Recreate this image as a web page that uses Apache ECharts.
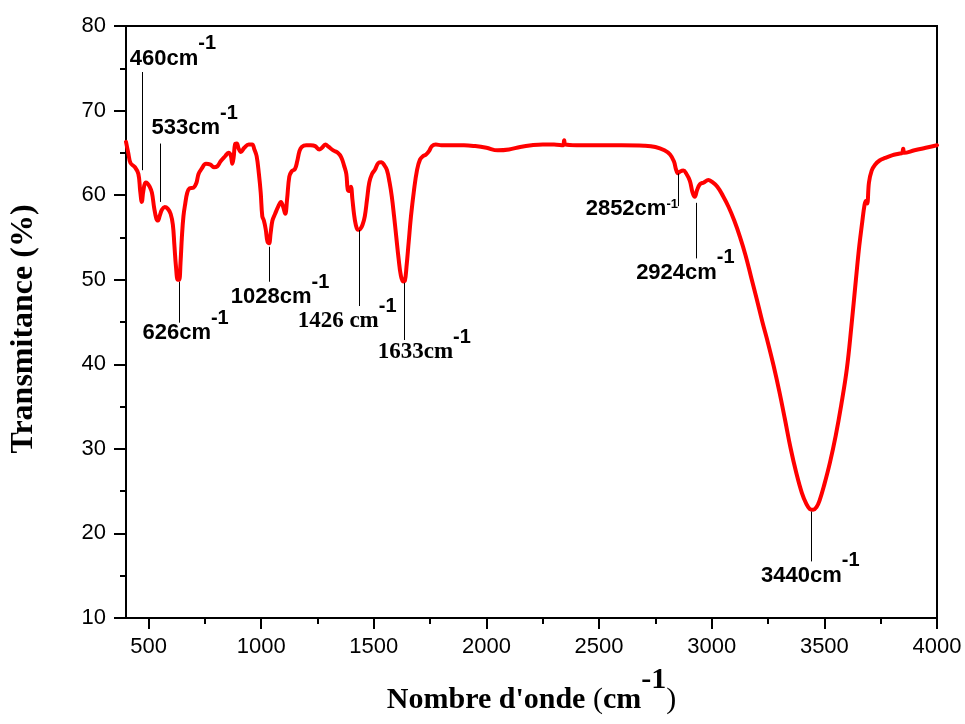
<!DOCTYPE html>
<html>
<head>
<meta charset="utf-8">
<script src="https://cdn.jsdelivr.net/npm/echarts@6/dist/echarts.min.js"></script>
<style>
  html, body { margin: 0; padding: 0; background: #fff; }
  #chart { width: 965px; height: 724px; }
</style>
</head>
<body>
<div id="chart"></div>
<script>
// --- spectre IR ---
const wavenumbers = [
    400, 410, 420, 440, 455, 463, 470, 477, 487, 495, 505, 515, 525, 535, 542, 550, 560, 572, 585, 598,
    608, 615, 622, 630, 636, 642, 648, 655, 663, 672, 682, 700, 712, 722, 735, 755, 775, 790, 805, 820,
    840, 855, 865, 872, 878, 884, 892, 900, 910, 925, 945, 960, 970, 980, 990, 998, 1005, 1012, 1020, 1028,
    1035, 1042, 1050, 1062, 1075, 1088, 1098, 1107, 1115, 1125, 1135, 1150, 1160, 1170, 1180, 1200, 1220, 1240, 1258, 1270,
    1285, 1300, 1320, 1340, 1355, 1368, 1378, 1384, 1390, 1398, 1405, 1412, 1420, 1430, 1440, 1450, 1460, 1470, 1480, 1492,
    1505, 1520, 1534, 1545, 1558, 1570, 1580, 1590, 1600, 1610, 1620, 1630, 1638, 1645, 1655, 1665, 1678, 1692, 1705, 1718,
    1732, 1745, 1758, 1775, 1800, 1850, 1900, 1950, 2000, 2050, 2100, 2150, 2200, 2250, 2300, 2340, 2345, 2350, 2400, 2500,
    2600, 2700, 2750, 2790, 2815, 2832, 2842, 2850, 2860, 2874, 2888, 2903, 2915, 2925, 2935, 2948, 2965, 2985, 3000, 3025,
    3050, 3075, 3100, 3125, 3150, 3175, 3200, 3225, 3250, 3275, 3300, 3325, 3350, 3375, 3400, 3420, 3435, 3450, 3465,
    3480, 3500, 3525, 3550, 3575, 3600, 3620, 3640, 3655, 3668, 3678, 3684, 3690, 3698, 3710, 3725, 3745, 3770, 3800, 3830,
    3845, 3850, 3855, 3900, 3950, 4000
];
const transmittance = [
    66.3, 65.0, 63.8, 63.3, 62.5, 60.5, 59.2, 60.5, 61.5, 61.4, 61.0, 60.3, 58.5, 57.2, 57.0, 57.6, 58.3, 58.6, 58.4, 57.8,
    56.5, 54.0, 51.5, 50.0, 50.0, 52.0, 55.0, 57.5, 59.0, 60.3, 60.8, 60.9, 61.4, 62.5, 63.1, 63.7, 63.6, 63.3, 63.4, 64.0,
    64.6, 65.0, 64.7, 63.7, 64.5, 66.0, 66.1, 65.5, 65.1, 65.6, 66.0, 66.0, 65.4, 64.6, 62.5, 60.3, 57.5, 57.0, 56.0, 54.5,
    54.3, 55.5, 57.0, 57.8, 58.6, 59.2, 58.6, 57.8, 59.5, 62.2, 62.8, 63.1, 64.0, 65.2, 65.7, 65.9, 65.9, 65.8, 65.4, 65.6,
    66.0, 65.7, 65.3, 65.0, 64.5, 63.5, 62.5, 60.7, 60.5, 61.0, 59.5, 57.8, 56.5, 55.9, 56.0, 56.5, 57.5, 59.5, 61.5, 62.5,
    63.0, 63.8, 63.9, 63.6, 63.0, 61.5, 59.8, 57.5, 55.0, 52.5, 50.5, 49.8, 49.9, 51.5, 54.5, 57.5, 60.5, 63.0, 64.2, 64.6,
    64.8, 65.2, 65.8, 66.0, 65.9, 65.9, 65.9, 65.8, 65.6, 65.3, 65.4, 65.7, 65.9, 66.0, 66.0, 65.9, 66.5, 66.0, 65.9, 65.9,
    65.9, 65.85, 65.7, 65.3, 64.8, 64.0, 63.0, 62.6, 62.8, 62.9, 62.5, 61.7, 60.3, 59.8, 60.6, 61.3, 61.5, 61.8, 61.6, 61.0,
    59.9, 58.6, 57.0, 55.1, 52.9, 50.3, 47.7, 45.0, 42.5, 39.8, 36.8, 33.5, 30.1, 27.2, 24.8, 23.5, 22.9, 22.8, 23.1,
    24.0, 25.8, 28.4, 31.5, 35.2, 39.5, 44.5, 50.0, 54.0, 56.8, 58.8, 59.3, 59.0, 61.5, 62.9, 63.6, 64.1, 64.4, 64.7, 64.9,
    65.0, 65.5, 65.0, 65.3, 65.6, 65.9
];

// graduations
const xTickLabels = [500, 1000, 1500, 2000, 2500, 3000, 3500, 4000];
const xMinorTicks = [750, 1250, 1750, 2250, 2750, 3250, 3750];

// annotations des bandes
const peakNames = ['460', '533', '626', '1028', '1426 ', '1633', '2852', '2924', '3440'];
const peakX = [472, 551, 635, 1036, 1435, 1635, 2851, 2933, 3443];
const peakLineFrom = [62.95, 59.2, 49.76, 53.9, 55.87, 49.64, 62.56, 59.09, 22.59];
const peakLineTo = [74.56, 66.1, 44.92, 49.76, 46.89, 42.87, 58.7, 52.52, 16.69];

// mise en page des étiquettes (px par rapport au bout du trait) + police
const peakLabelLayout = [
    { dx: -12, dy: -13, font: 'sans', sup: 20, raise: 16 },
    { dx: -8, dy: -15, font: 'sans', sup: 20, raise: 16 },
    { dx: -36, dy: 11, font: 'sans', sup: 20, raise: 16 },
    { dx: -38, dy: 16, font: 'sans', sup: 20, raise: 16 },
    { dx: -61, dy: 16, font: 'serif', sup: 20, raise: 16 },
    { dx: -26, dy: 13, font: 'serif', sup: 20, raise: 16 },
    { dx: -92, dy: 3, font: 'sans', sup: 13, raise: 9 },
    { dx: -60, dy: 15, font: 'sans', sup: 20, raise: 16 },
    { dx: -50, dy: 15, font: 'sans', sup: 20, raise: 16 }
];

const SANS = "'Liberation Sans', Arial, sans-serif";
const SERIF = "'Liberation Serif', 'Times New Roman', serif";

function buildPeakMarks() {
    const lines = [];
    const labels = [];
    peakNames.forEach((name, i) => {
        const lay = peakLabelLayout[i];
        lines.push([
            { coord: [peakX[i], peakLineFrom[i]] },
            { coord: [peakX[i], peakLineTo[i]] }
        ]);
        const isSerif = lay.font === 'serif';
        labels.push({
            coord: [peakX[i], peakLineTo[i]],
            label: {
                show: true,
                position: [lay.dx, lay.dy + 11],
                align: 'left',
                verticalAlign: 'bottom',
                formatter: '{b|' + name + 'cm}{s|-1}',
                rich: {
                    b: {
                        fontFamily: isSerif ? SERIF : SANS,
                        fontWeight: 'bold',
                        fontSize: isSerif ? 23 : 22,
                        lineHeight: 22,
                        color: '#000',
                        verticalAlign: 'bottom'
                    },
                    s: {
                        fontFamily: SANS,
                        fontWeight: 'bold',
                        fontSize: lay.sup,
                        lineHeight: lay.sup,
                        color: '#000',
                        verticalAlign: 'bottom',
                        padding: [0, 0, lay.raise, 0]
                    }
                }
            }
        });
    });
    return { lines, labels };
}

const chart = echarts.init(document.getElementById('chart'));
const marks = buildPeakMarks();
const seriesData = wavenumbers.map((w, i) => [w, transmittance[i]]);

const option = {
    backgroundColor: '#fff',
    animation: false,
    grid: {
        left: 126,
        right: 28,
        top: 26,
        bottom: 106,
        show: true,
        borderColor: '#000',
        borderWidth: 2
    },
    xAxis: [
        {
            type: 'value',
            min: 400,
            max: 4000,
            position: 'bottom',
            name: "{t|Nombre d'onde }{p|(}{t|cm}{s|-1}{p|)}",
            nameLocation: 'middle',
            nameGap: 67,
            nameTextStyle: {
                rich: {
                    t: { fontFamily: SERIF, fontWeight: 'bold', fontSize: 30, lineHeight: 30, color: '#000', verticalAlign: 'bottom' },
                    p: { fontFamily: SERIF, fontWeight: 'normal', fontSize: 30, lineHeight: 30, color: '#000', verticalAlign: 'bottom' },
                    s: { fontFamily: SERIF, fontWeight: 'bold', fontSize: 30, lineHeight: 30, color: '#000', verticalAlign: 'bottom', padding: [0, 0, 20, 0] }
                }
            },
            axisLine: { show: true, onZero: false, lineStyle: { color: '#000', width: 2 } },
            axisTick: { show: true, length: 11, customValues: xTickLabels, lineStyle: { color: '#000', width: 2 } },
            axisLabel: {
                customValues: xTickLabels,
                formatter: (v) => String(v),
                margin: 18,
                fontFamily: SANS,
                fontSize: 22,
                color: '#000'
            },
            splitLine: { show: false }
        },
        {
            type: 'value',
            min: 400,
            max: 4000,
            position: 'bottom',
            axisLine: { show: false },
            axisTick: { show: true, length: 6, customValues: xMinorTicks, lineStyle: { color: '#000', width: 2 } },
            axisLabel: { show: false },
            splitLine: { show: false }
        }
    ],
    yAxis: {
        type: 'value',
        min: 10,
        max: 80,
        interval: 10,
        name: 'Transmitance (%)',
        nameLocation: 'middle',
        nameGap: 86,
        nameTextStyle: {
            fontFamily: SERIF,
            fontWeight: 'bold',
            fontSize: 32,
            color: '#000',
            padding: [0, 14, 0, 0]
        },
        axisLine: { show: true, lineStyle: { color: '#000', width: 2 } },
        axisTick: { show: true, length: 12, lineStyle: { color: '#000', width: 2 } },
        minorTick: { show: true, splitNumber: 2, length: 6, lineStyle: { color: '#000', width: 2 } },
        axisLabel: {
            margin: 20,
            fontFamily: SANS,
            fontSize: 22,
            color: '#000'
        },
        splitLine: { show: false }
    },
    series: [
        {
            type: 'line',
            data: seriesData,
            showSymbol: false,
            smooth: 0.4,
            lineStyle: { color: '#ff0000', width: 4, join: 'round', cap: 'round' },
            itemStyle: { color: '#ff0000' },
            markLine: {
                silent: true,
                symbol: ['none', 'none'],
                label: { show: false },
                lineStyle: { color: '#000', width: 1, type: 'solid' },
                emphasis: { disabled: true },
                data: marks.lines
            },
            markPoint: {
                silent: true,
                symbol: 'circle',
                symbolSize: 1,
                itemStyle: { color: 'rgba(0,0,0,0)' },
                data: marks.labels
            }
        }
    ]
};

chart.setOption(option);
</script>
</body>
</html>
